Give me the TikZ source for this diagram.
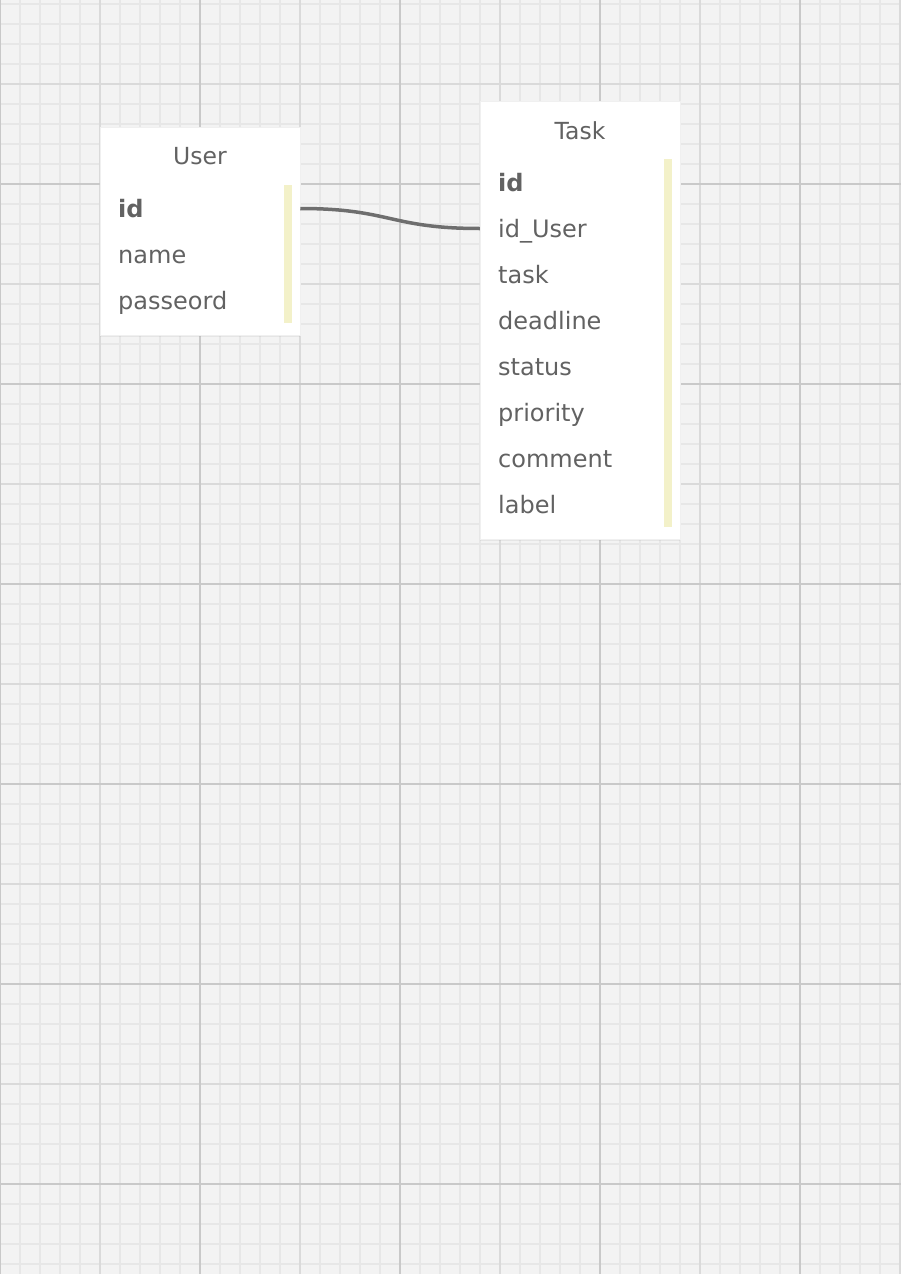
\documentclass[tikz,border=0pt]{standalone}
\usepackage{fontspec}
\setmainfont{DejaVu Sans}
\usetikzlibrary{shadows}
\definecolor{paper}{HTML}{F3F3F3}
\definecolor{minorline}{HTML}{E7E7E7}
\definecolor{midline}{HTML}{DADADA}
\definecolor{majorline}{HTML}{C9C9C9}
\definecolor{inkgray}{HTML}{626262}
\definecolor{keybar}{HTML}{F3F1C9}
\definecolor{linkgray}{HTML}{6E6E6E}
\tikzset{
  minor/.style={draw=minorline, line width=2pt},
  mid/.style={draw=midline, line width=2pt},
  major/.style={draw=majorline, line width=2pt},
  table/.style={rectangle, fill=white, draw=black!6, line width=0.5pt, inner sep=0pt,
    minimum width=200pt, drop shadow={opacity=0.12, shadow xshift=0pt, shadow yshift=-2pt}},
  title/.style={anchor=base, inner sep=0pt, text=inkgray, font=\fontsize{23.5}{27}\selectfont},
  field/.style={anchor=base west, inner sep=0pt, text height=17pt, text depth=0pt,
    text=inkgray, font=\fontsize{24}{28}\selectfont},
  link/.style={draw=linkgray, line width=3.5pt}
}
\begin{document}
\begin{tikzpicture}[x=1pt,y=-1pt]
    \useasboundingbox (0,0) rectangle (901,1274);
    \fill[paper] (0,0) rectangle (901,1274);
    \foreach \gx in {0,20,...,900} \draw[minor] (\gx,0) -- (\gx,1274);
    \foreach \gy in {4,24,...,1274} \draw[minor] (0,\gy) -- (901,\gy);
    \foreach \gx in {100,300,...,900} \draw[mid] (\gx,0) -- (\gx,1274);
    \foreach \gy in {84,284,...,1274} \draw[mid] (0,\gy) -- (901,\gy);
    \foreach \gx in {0,200,...,900} \draw[major] (\gx,0) -- (\gx,1274);
    \foreach \gy in {184,384,...,1274} \draw[major] (0,\gy) -- (901,\gy);

    \node[table, minimum height=208pt] (user) at (200,231) {};
    \node[table, minimum height=438pt] (task) at (580,320) {};
    \fill[keybar] (284,185) rectangle (292,323);
    \fill[keybar] (664,159) rectangle (672,527);

    \node[title] (user-title) at (200,164) {User};
    \node[field] (u-id) at (118,217) {\textbf{id}};
    \node[field] (u-name) at (118,263) {name};
    \node[field] (u-passeord) at (118,309) {passeord};

    \node[title] (task-title) at (580,139) {Task};
    \node[field] (t-id) at (498,191) {\textbf{id}};
    \node[field] (t-iduser) at (498,237) {id\_User};
    \node[field] (t-task) at (498,283) {task};
    \node[field] (t-deadline) at (498,329) {deadline};
    \node[field] (t-status) at (498,375) {status};
    \node[field] (t-priority) at (498,421) {priority};
    \node[field] (t-comment) at (498,467) {comment};
    \node[field] (t-label) at (498,513) {label};

    \draw[link] (user.east |- u-id) .. controls +(90,0) and +(-90,0) .. (task.west |- t-iduser);
  \end{tikzpicture}
\end{document}
